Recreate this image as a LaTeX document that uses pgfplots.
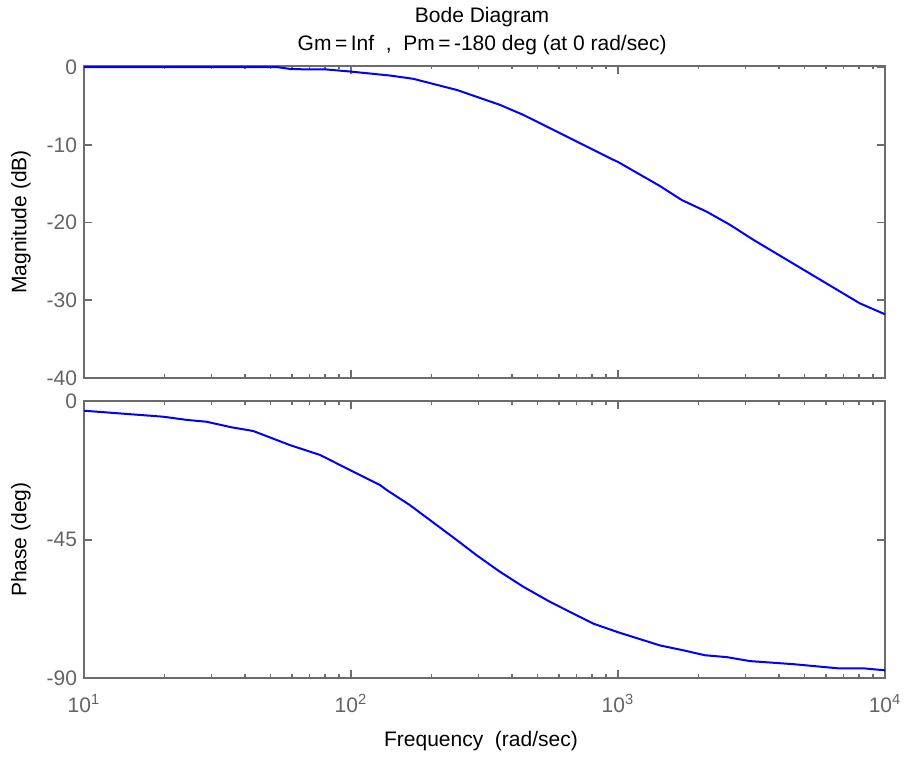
\documentclass[border=0pt]{standalone}
\usepackage{pgfplots}
\pgfplotsset{compat=1.18}
\usepackage{fontspec}
\setmainfont{Liberation Sans}
\definecolor{axgray}{RGB}{108,108,108}
\definecolor{tickgray}{RGB}{100,100,100}
\definecolor{curveblue}{RGB}{0,0,255}
\newcommand{\fs}{\fontsize{10.5}{14}\selectfont}
\pgfplotsset{
  bodestyle/.style={
    scale only axis, width=400.5pt,
    xmin=10, xmax=10000,
    axis line style={axgray, line width=1pt},
    every tick/.style={axgray, line width=0.8pt},
    major tick length=4pt, minor tick length=1.75pt,
    tick align=inside,
    xtick={10,100,1000,10000},
    minor xtick={20,30,40,50,60,70,80,90,200,300,400,500,600,700,800,900,2000,3000,4000,5000,6000,7000,8000,9000},
    tick label style={font=\fs, text=tickgray},
    every axis y label/.style={at={(axis description cs:-0.0787,0.5)},rotate=90,anchor=center,font=\fs},
  }
}
\begin{document}
\begin{tikzpicture}
\path[use as bounding box] (0pt,0pt) rectangle (452pt,379.5pt);
% Magnitude
\begin{semilogxaxis}[bodestyle,
  at={(42pt,190.5pt)}, anchor=south west, height=156pt,
  ymin=-40, ymax=0.15,
  ytick={0,-10,-20,-30,-40}, yticklabels={0,-10,-20,-30,-40},
  xticklabels=\empty,
  ylabel={Magnitude (dB)},
  title={Bode Diagram\\Gm\,=\,Inf~~,~~Pm\,=\,-180 deg (at 0 rad/sec)},
  every axis title/.style={at={(axis description cs:0.497,1.112)},anchor=center,align=center,font=\fs},
]
\addplot[curveblue, line width=1pt] coordinates {
(10,0) (53,0) (60,-0.26) (81,-0.3) (99,-0.56) (140,-1.08) (171,-1.5)
(250,-2.95) (361,-4.85) (441,-6.13) (957,-11.9) (1000,-12.2) (1436,-15.3)
(1733,-17.1) (2149,-18.6) (2630,-20.3) (3207,-22.2) (8054,-30.4) (10000,-31.8)
};
\end{semilogxaxis}
% Phase
\begin{semilogxaxis}[bodestyle,
  at={(42pt,40.5pt)}, anchor=south west, height=138.25pt,
  ymin=-90, ymax=0,
  ytick={0,-45,-90}, yticklabels={0,-45,-90},
  xticklabels={10\textsuperscript{1},10\textsuperscript{2},10\textsuperscript{3},10\textsuperscript{4}},
  xticklabel style={yshift=-4.5pt},
  ylabel={Phase (deg)},
  xlabel={Frequency\ \ (rad/sec)},
  every axis x label/.style={at={(axis description cs:0.4956,-0.228)},anchor=center,font=\fs},
]
\addplot[curveblue, line width=1pt] coordinates {
(10,-3.0) (19.8,-4.95) (24.3,-6.0) (28.8,-6.6) (35.7,-8.4) (43,-9.6)
(59.1,-14.2) (76.6,-17.4) (99,-22.3) (128.5,-27.2) (136,-28.8)
(166,-33.7) (249,-45.1) (295,-50.0) (361,-55.4) (442,-60.3) (556,-65.2)
(808,-72.3) (1000,-75.1) (1436,-79.4) (1759,-81.0) (2118,-82.6) (2553,-83.2)
(3119,-84.5) (4536,-85.5) (6770,-86.9) (8410,-86.9) (10000,-87.5)
};
\end{semilogxaxis}
\end{tikzpicture}
\end{document}
